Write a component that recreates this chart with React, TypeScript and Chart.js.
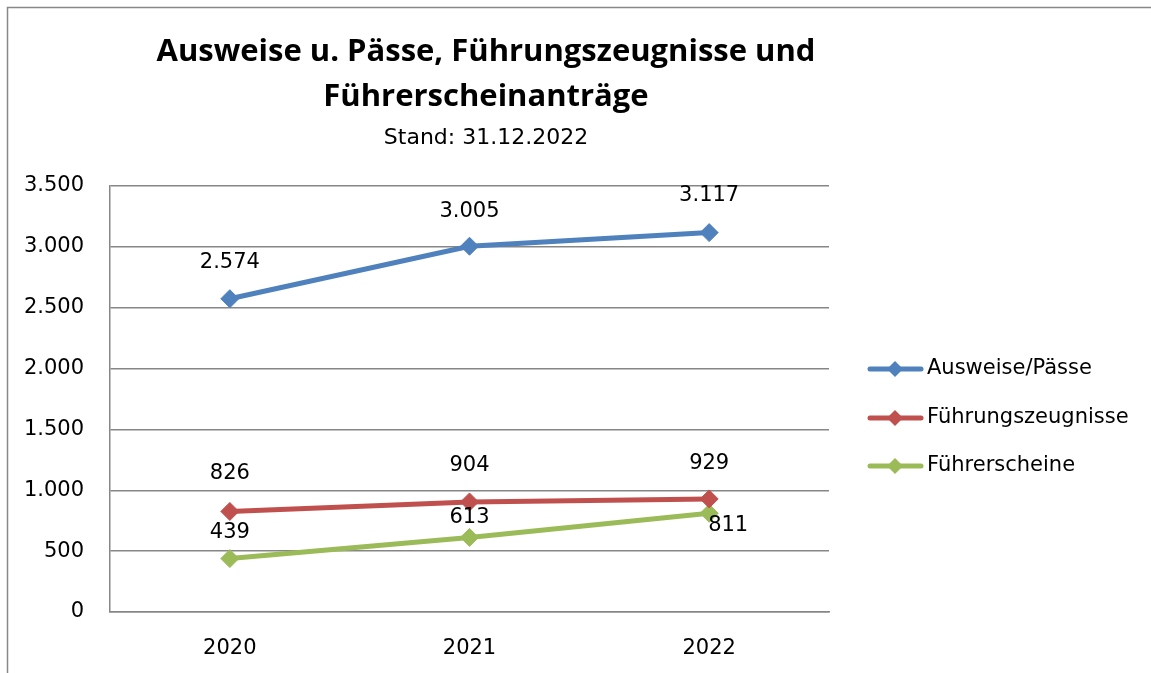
import React, { useEffect, useRef } from "react";
import { Chart, registerables } from "chart.js";

Chart.register(...registerables);

const years = ["2020", "2021", "2022"];
const ausweise = [2574, 3005, 3117];
const fuehrungszeugnisse = [826, 904, 929];
const fuehrerscheine = [439, 613, 811];
const seriesNames = ["Ausweise/Pässe", "Führungszeugnisse", "Führerscheine"];
const titleLines = ["Ausweise u. Pässe, Führungszeugnisse und", "Führerscheinanträge"];
const subtitle = "Stand: 31.12.2022";
const yMin = 0;
const yMax = 3500;
const yStep = 500;

const FONT = "'DejaVu Sans', 'Open Sans', sans-serif";
const TITLE_FONT = "'Open Sans', Lato, sans-serif";
const colors = ["#4F81BD", "#C0504D", "#9BBB59"];
const gridColor = "#868686";
// label offsets (style only) per series/point: [dx, dy]
const labelOffsets = [
  [[0, -36], [0, -35], [0, -37]],
  [[0, -38], [0, -36], [0, -35]],
  [[0, -26], [0, -20], [19, 12]],
];

const fmt = (v: number) => String(Math.round(v)).replace(/\B(?=(\d{3})+(?!\d))/g, ".");

const W = 1151;
const H = 673;

const decorPlugin = {
  id: "decor",
  beforeDraw(chart: any) {
    const ctx = chart.ctx;
    ctx.save();
    ctx.fillStyle = "#fff";
    ctx.fillRect(0, 0, W, H);
    ctx.strokeStyle = "#888888";
    ctx.lineWidth = 1.5;
    ctx.strokeRect(7.5, 7.5, 2000, 2000);
    ctx.restore();
  },
  afterDraw(chart: any) {
    const ctx = chart.ctx;
    ctx.save();
    ctx.fillStyle = "#000";
    ctx.textAlign = "center";
    ctx.textBaseline = "middle";
    ctx.font = `bold 31px ${TITLE_FONT}`;
    ctx.fillText(titleLines[0], 486, 52);
    ctx.fillText(titleLines[1], 486, 97);
    ctx.font = `22px ${FONT}`;
    ctx.fillText(subtitle, 486, 138);

    // legend
    const rows = [369, 418, 466];
    chart.data.datasets.forEach((ds: any, i: number) => {
      const y = rows[i];
      ctx.strokeStyle = colors[i];
      ctx.lineWidth = 5;
      ctx.lineCap = "round";
      ctx.beginPath();
      ctx.moveTo(870, y);
      ctx.lineTo(921, y);
      ctx.stroke();
      ctx.fillStyle = colors[i];
      ctx.beginPath();
      ctx.moveTo(895, y - 8);
      ctx.lineTo(903, y);
      ctx.lineTo(895, y + 8);
      ctx.lineTo(887, y);
      ctx.closePath();
      ctx.fill();
      ctx.fillStyle = "#000";
      ctx.textAlign = "left";
      ctx.font = `21px ${FONT}`;
      ctx.fillText(ds.label, 927, y);
    });
    ctx.restore();
  },
  afterDatasetsDraw(chart: any) {
    const ctx = chart.ctx;
    ctx.save();
    ctx.fillStyle = "#000";
    ctx.textAlign = "center";
    ctx.textBaseline = "middle";
    ctx.font = `21px ${FONT}`;
    chart.data.datasets.forEach((ds: any, i: number) => {
      const meta = chart.getDatasetMeta(i);
      meta.data.forEach((pt: any, j: number) => {
        const [dx, dy] = labelOffsets[i][j];
        ctx.fillText(fmt(ds.data[j]), pt.x + dx, pt.y + dy);
      });
    });
    ctx.restore();
  },
};

export default function App() {
  const ref = useRef<HTMLCanvasElement>(null);
  useEffect(() => {
    document.body.style.margin = "0";
    const series = [ausweise, fuehrungszeugnisse, fuehrerscheine];
    const chart = new Chart(ref.current as HTMLCanvasElement, {
      type: "line",
      data: {
        labels: years,
        datasets: series.map((d, i) => ({
          label: seriesNames[i],
          data: d,
          borderColor: colors[i],
          backgroundColor: colors[i],
          borderWidth: 5,
          pointStyle: "rectRot",
          pointRadius: 9,
          pointBorderWidth: 1,
          tension: 0,
          fill: false,
        })),
      },
      options: {
        animation: false,
        responsive: false,
        devicePixelRatio: 1,
        layout: { padding: { left: 10, right: 322, top: 186, bottom: 11 } },
        plugins: {
          legend: { display: false },
          title: { display: false },
          tooltip: { enabled: false },
        },
        scales: {
          x: {
            offset: true,
            grid: { display: false, drawTicks: false },
            border: { display: true, color: gridColor, width: 1.5 },
            ticks: { color: "#000", font: { family: FONT, size: 21 }, padding: 24 },
            afterFit: (s: any) => {
              s.height = 50;
            },
          },
          y: {
            min: yMin,
            max: yMax,
            ticks: {
              stepSize: yStep,
              color: "#000",
              font: { family: FONT, size: 21 },
              padding: 26,
              callback: (v: any) => fmt(Number(v)),
            },
            grid: { color: gridColor, lineWidth: 1.5, drawTicks: false },
            border: { display: true, color: gridColor, width: 1.5 },
            afterFit: (s: any) => {
              s.width = 100;
            },
          },
        },
      },
      plugins: [decorPlugin],
    } as any);
    return () => chart.destroy();
  }, []);
  return (
    <canvas ref={ref} width={W} height={H} style={{ display: "block", width: W, height: H }} />
  );
}
